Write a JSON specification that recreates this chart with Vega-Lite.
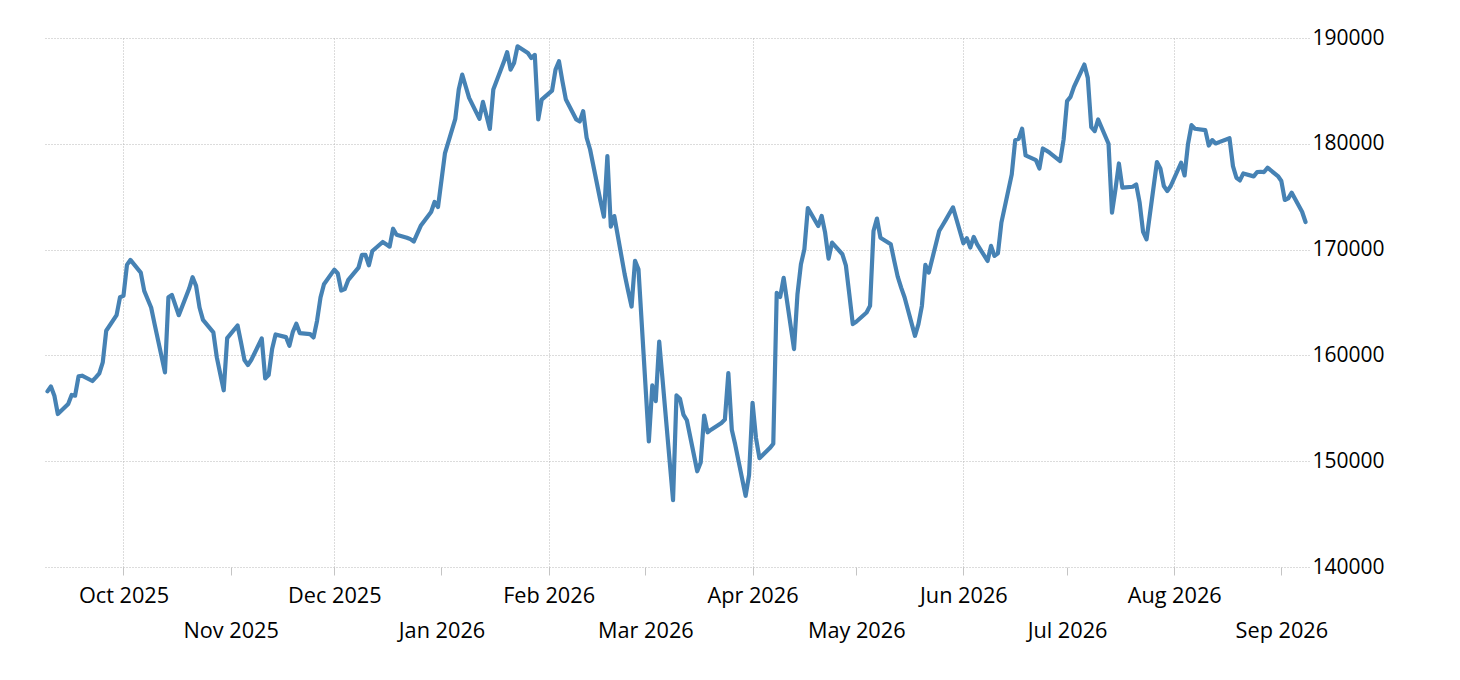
{
  "$schema": "https://vega.github.io/schema/vega-lite/v6.json",
  "width": 1265,
  "height": 529,
  "autosize": "none",
  "padding": {"left": 44, "top": 38, "right": 151, "bottom": 113},
  "background": "white",
  "data": {"values": [
    {"d":"2025-09-09","v":156600},{"d":"2025-09-10","v":157070},{"d":"2025-09-11","v":156190},{"d":"2025-09-12","v":154460},
    {"d":"2025-09-15","v":155410},{"d":"2025-09-16","v":156260},{"d":"2025-09-17","v":156190},{"d":"2025-09-18","v":158020},{"d":"2025-09-19","v":158080},
    {"d":"2025-09-22","v":157580},{"d":"2025-09-23","v":157920},{"d":"2025-09-24","v":158300},{"d":"2025-09-25","v":159340},{"d":"2025-09-26","v":162330},
    {"d":"2025-09-29","v":163800},{"d":"2025-09-30","v":165500},{"d":"2025-10-01","v":165630},{"d":"2025-10-02","v":168550},{"d":"2025-10-03","v":169030},
    {"d":"2025-10-06","v":167830},{"d":"2025-10-07","v":166100},{"d":"2025-10-08","v":165310},{"d":"2025-10-09","v":164530},{"d":"2025-10-10","v":162960},
    {"d":"2025-10-13","v":158400},{"d":"2025-10-14","v":165500},{"d":"2025-10-15","v":165720},{"d":"2025-10-16","v":164750},{"d":"2025-10-17","v":163800},
    {"d":"2025-10-20","v":166320},{"d":"2025-10-21","v":167390},{"d":"2025-10-22","v":166570},{"d":"2025-10-23","v":164530},{"d":"2025-10-24","v":163360},
    {"d":"2025-10-27","v":162170},{"d":"2025-10-28","v":159810},{"d":"2025-10-29","v":158240},{"d":"2025-10-30","v":156700},{"d":"2025-10-31","v":161630},
    {"d":"2025-11-03","v":162830},{"d":"2025-11-04","v":161230},{"d":"2025-11-05","v":159560},{"d":"2025-11-06","v":159090},{"d":"2025-11-07","v":159590},
    {"d":"2025-11-10","v":161600},{"d":"2025-11-11","v":157830},{"d":"2025-11-12","v":158140},{"d":"2025-11-13","v":160600},{"d":"2025-11-14","v":161980},
    {"d":"2025-11-17","v":161730},{"d":"2025-11-18","v":160910},{"d":"2025-11-19","v":162230},{"d":"2025-11-20","v":162990},{"d":"2025-11-21","v":162110},
    {"d":"2025-11-24","v":162010},{"d":"2025-11-25","v":161700},{"d":"2025-11-26","v":163270},{"d":"2025-11-27","v":165470},{"d":"2025-11-28","v":166730},
    {"d":"2025-12-01","v":168110},{"d":"2025-12-02","v":167740},{"d":"2025-12-03","v":166130},{"d":"2025-12-04","v":166260},{"d":"2025-12-05","v":167110},
    {"d":"2025-12-08","v":168300},{"d":"2025-12-09","v":169500},{"d":"2025-12-10","v":169500},{"d":"2025-12-11","v":168520},{"d":"2025-12-12","v":169870},
    {"d":"2025-12-15","v":170720},{"d":"2025-12-16","v":170500},{"d":"2025-12-17","v":170280},{"d":"2025-12-18","v":171975},{"d":"2025-12-19","v":171410},
    {"d":"2025-12-22","v":171125},{"d":"2025-12-23","v":170990},{"d":"2025-12-24","v":170770},{"d":"2025-12-26","v":172250},
    {"d":"2025-12-29","v":173550},{"d":"2025-12-30","v":174500},{"d":"2025-12-31","v":174020},{"d":"2026-01-02","v":179090},
    {"d":"2026-01-05","v":182360},{"d":"2026-01-06","v":185130},{"d":"2026-01-07","v":186540},{"d":"2026-01-08","v":185440},{"d":"2026-01-09","v":184340},
    {"d":"2026-01-12","v":182360},{"d":"2026-01-13","v":183960},{"d":"2026-01-14","v":182670},{"d":"2026-01-15","v":181410},{"d":"2026-01-16","v":185130},
    {"d":"2026-01-19","v":187700},{"d":"2026-01-20","v":188650},{"d":"2026-01-21","v":187010},{"d":"2026-01-22","v":187640},{"d":"2026-01-23","v":189210},
    {"d":"2026-01-26","v":188580},{"d":"2026-01-27","v":188110},{"d":"2026-01-28","v":188400},{"d":"2026-01-29","v":182300},{"d":"2026-01-30","v":184180},
    {"d":"2026-02-02","v":185030},{"d":"2026-02-03","v":187010},{"d":"2026-02-04","v":187800},{"d":"2026-02-05","v":185910},{"d":"2026-02-06","v":184180},
    {"d":"2026-02-09","v":182300},{"d":"2026-02-10","v":182110},{"d":"2026-02-11","v":183080},{"d":"2026-02-12","v":180570},{"d":"2026-02-13","v":179460},
    {"d":"2026-02-16","v":174590},{"d":"2026-02-17","v":173110},{"d":"2026-02-18","v":178840},{"d":"2026-02-19","v":172170},{"d":"2026-02-20","v":173170},
    {"d":"2026-02-23","v":167670},{"d":"2026-02-24","v":166100},{"d":"2026-02-25","v":164620},{"d":"2026-02-26","v":168930},{"d":"2026-02-27","v":168140},
    {"d":"2026-03-02","v":151870},{"d":"2026-03-03","v":157170},{"d":"2026-03-04","v":155680},{"d":"2026-03-05","v":161300},{"d":"2026-03-06","v":157590},
    {"d":"2026-03-09","v":146320},{"d":"2026-03-10","v":156220},{"d":"2026-03-11","v":155900},{"d":"2026-03-12","v":154410},{"d":"2026-03-13","v":153870},
    {"d":"2026-03-16","v":149050},{"d":"2026-03-17","v":149870},{"d":"2026-03-18","v":154320},{"d":"2026-03-19","v":152730},{"d":"2026-03-20","v":152980},
    {"d":"2026-03-23","v":153620},{"d":"2026-03-24","v":153940},{"d":"2026-03-25","v":158320},{"d":"2026-03-26","v":152980},{"d":"2026-03-27","v":151550},
    {"d":"2026-03-30","v":146730},{"d":"2026-03-31","v":148700},{"d":"2026-04-01","v":155520},{"d":"2026-04-02","v":152190},{"d":"2026-04-03","v":150280},
    {"d":"2026-04-06","v":151240},{"d":"2026-04-07","v":151650},{"d":"2026-04-08","v":165910},{"d":"2026-04-09","v":165520},{"d":"2026-04-10","v":167330},
    {"d":"2026-04-13","v":160600},{"d":"2026-04-14","v":165790},{"d":"2026-04-15","v":168620},{"d":"2026-04-16","v":170030},{"d":"2026-04-17","v":173930},
    {"d":"2026-04-20","v":172230},{"d":"2026-04-21","v":173180},{"d":"2026-04-22","v":171600},{"d":"2026-04-23","v":169150},{"d":"2026-04-24","v":170660},
    {"d":"2026-04-27","v":169560},{"d":"2026-04-28","v":168520},{"d":"2026-04-29","v":165790},{"d":"2026-04-30","v":162960},{"d":"2026-05-01","v":163180},
    {"d":"2026-05-04","v":164060},{"d":"2026-05-05","v":164690},{"d":"2026-05-06","v":171760},{"d":"2026-05-07","v":172930},{"d":"2026-05-08","v":171130},
    {"d":"2026-05-11","v":170500},{"d":"2026-05-12","v":168930},{"d":"2026-05-13","v":167450},{"d":"2026-05-14","v":166410},{"d":"2026-05-15","v":165470},
    {"d":"2026-05-18","v":161850},{"d":"2026-05-19","v":162960},{"d":"2026-05-20","v":164690},{"d":"2026-05-21","v":168550},{"d":"2026-05-22","v":167830},
    {"d":"2026-05-25","v":171760},{"d":"2026-05-26","v":172300},{"d":"2026-05-27","v":172860},{"d":"2026-05-28","v":173430},{"d":"2026-05-29","v":173990},
    {"d":"2026-06-01","v":170600},{"d":"2026-06-02","v":171070},{"d":"2026-06-03","v":170190},{"d":"2026-06-04","v":171200},{"d":"2026-06-05","v":170500},
    {"d":"2026-06-08","v":168930},{"d":"2026-06-09","v":170350},{"d":"2026-06-10","v":169400},{"d":"2026-06-11","v":169650},{"d":"2026-06-12","v":172550},
    {"d":"2026-06-15","v":177110},{"d":"2026-06-16","v":180350},{"d":"2026-06-17","v":180470},{"d":"2026-06-18","v":181430},{"d":"2026-06-19","v":178900},
    {"d":"2026-06-22","v":178460},{"d":"2026-06-23","v":177670},{"d":"2026-06-24","v":179560},{"d":"2026-06-25","v":179370},{"d":"2026-06-26","v":179150},
    {"d":"2026-06-29","v":178370},{"d":"2026-06-30","v":180410},{"d":"2026-07-01","v":184030},{"d":"2026-07-02","v":184430},{"d":"2026-07-03","v":185380},
    {"d":"2026-07-06","v":187490},{"d":"2026-07-07","v":186230},{"d":"2026-07-08","v":181570},{"d":"2026-07-09","v":181200},{"d":"2026-07-10","v":182300},
    {"d":"2026-07-13","v":180000},{"d":"2026-07-14","v":173490},{"d":"2026-07-15","v":175690},{"d":"2026-07-16","v":178140},{"d":"2026-07-17","v":175850},
    {"d":"2026-07-20","v":175940},{"d":"2026-07-21","v":176160},{"d":"2026-07-22","v":174430},{"d":"2026-07-23","v":171670},{"d":"2026-07-24","v":170970},
    {"d":"2026-07-27","v":178270},{"d":"2026-07-28","v":177670},{"d":"2026-07-29","v":176010},{"d":"2026-07-30","v":175530},{"d":"2026-07-31","v":176010},
    {"d":"2026-08-03","v":178210},{"d":"2026-08-04","v":177010},{"d":"2026-08-05","v":180000},{"d":"2026-08-06","v":181760},{"d":"2026-08-07","v":181420},
    {"d":"2026-08-10","v":181290},{"d":"2026-08-11","v":179840},{"d":"2026-08-12","v":180350},{"d":"2026-08-13","v":180030},{"d":"2026-08-14","v":180160},
    {"d":"2026-08-17","v":180530},{"d":"2026-08-18","v":177890},{"d":"2026-08-19","v":176790},{"d":"2026-08-20","v":176540},{"d":"2026-08-21","v":177200},
    {"d":"2026-08-24","v":176920},{"d":"2026-08-25","v":177330},{"d":"2026-08-26","v":177360},{"d":"2026-08-27","v":177330},{"d":"2026-08-28","v":177740},
    {"d":"2026-08-31","v":176950},{"d":"2026-09-01","v":176480},{"d":"2026-09-02","v":174690},{"d":"2026-09-03","v":174840},{"d":"2026-09-04","v":175380},
    {"d":"2026-09-07","v":173580},{"d":"2026-09-08","v":172610}
  ]},
  "config": {
    "view": {"stroke": null},
    "axis": {
      "labelFont": "Open Sans",
      "labelFontSize": 21.7,
      "labelColor": "#000000",
      "labelOverlap": false,
      "labelFlush": false,
      "labelBound": false,
      "domain": false,
      "title": null,
      "grid": true,
      "gridColor": "#b8b8b8",
      "gridWidth": 1,
      "gridDash": [1, 2],
      "gridOpacity": 1
    }
  },
  "encoding": {
    "y": {
      "field": "v",
      "type": "quantitative",
      "scale": {"domain": [140000, 190000], "nice": false, "zero": false},
      "axis": {"orient": "right", "values": [140000, 150000, 160000, 170000, 180000, 190000], "format": "d", "ticks": false, "labelFontSize": 21, "labelPadding": 3, "labelAlign": "left", "labelBaseline": "middle", "labelOffset": 0}
    }
  },
  "layer": [
    {
      "mark": {"type": "line", "opacity": 0},
      "encoding": {
        "x": {
          "field": "d",
          "type": "temporal",
          "scale": {"type": "utc", "domain": [{"year": 2025, "month": "sep", "date": 8, "utc": true}, {"year": 2026, "month": "sep", "date": 9, "utc": true}]},
          "axis": {
            "orient": "bottom",
            "format": "%b %Y",
            "values": [
              {"year": 2025, "month": "oct", "date": 1, "utc": true},
              {"year": 2025, "month": "dec", "date": 1, "utc": true},
              {"year": 2026, "month": "feb", "date": 1, "utc": true},
              {"year": 2026, "month": "apr", "date": 1, "utc": true},
              {"year": 2026, "month": "jun", "date": 1, "utc": true},
              {"year": 2026, "month": "aug", "date": 1, "utc": true}
            ],
            "ticks": true,
            "tickSize": 8,
            "tickColor": "#c4c4c4",
            "labelPadding": 10
          }
        }
      }
    },
    {
      "mark": {"type": "line", "color": "#4682b4", "strokeWidth": 4.2, "strokeJoin": "round", "strokeCap": "round"},
      "encoding": {
        "x": {
          "field": "d",
          "type": "temporal",
          "scale": {"type": "utc", "domain": [{"year": 2025, "month": "sep", "date": 8, "utc": true}, {"year": 2026, "month": "sep", "date": 9, "utc": true}]},
          "axis": {
            "orient": "bottom",
            "format": "%b %Y",
            "values": [
              {"year": 2025, "month": "nov", "date": 1, "utc": true},
              {"year": 2026, "month": "jan", "date": 1, "utc": true},
              {"year": 2026, "month": "mar", "date": 1, "utc": true},
              {"year": 2026, "month": "may", "date": 1, "utc": true},
              {"year": 2026, "month": "jul", "date": 1, "utc": true},
              {"year": 2026, "month": "sep", "date": 1, "utc": true}
            ],
            "ticks": true,
            "tickSize": 8,
            "tickColor": "#c4c4c4",
            "labelPadding": 45
          }
        }
      }
    }
  ],
  "resolve": {"axis": {"x": "independent"}}
}
